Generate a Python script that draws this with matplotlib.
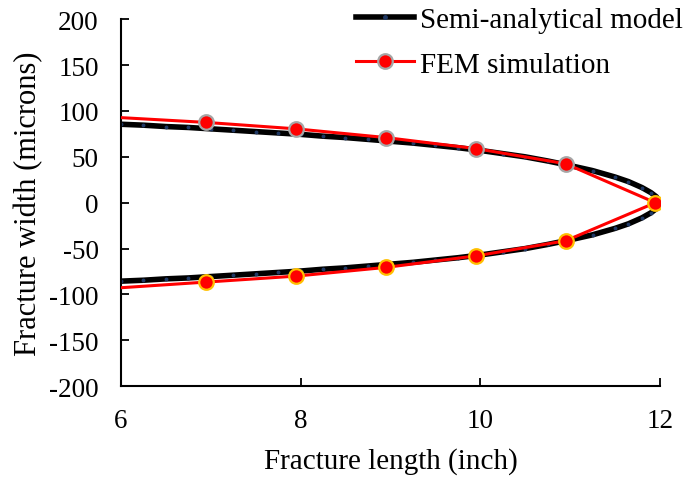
import matplotlib
matplotlib.use("Agg")
import matplotlib.pyplot as plt
from matplotlib.lines import Line2D

plt.rcParams['font.family'] = ['Liberation Serif', 'DejaVu Serif']
plt.rcParams['axes.unicode_minus'] = False

# Semi-analytical model (upper half)
model_x = [6.0, 6.25, 6.5, 6.75, 7.0, 7.25, 7.5, 7.75, 8.0, 8.25, 8.5, 8.75, 9.0,
           9.25, 9.5, 9.75, 10.0, 10.25, 10.5, 10.75, 11.0, 11.25, 11.5, 11.65,
           11.8, 11.9, 11.96, 12.0]
model_upper = [85.5, 84.5, 83.0, 82.0, 80.5, 79.0, 77.5, 76.0, 74.5, 72.5, 71.0, 69.0, 67.0,
               65.0, 62.5, 60.0, 57.0, 53.5, 50.0, 45.5, 40.5, 35.0, 28.0, 23.0,
               16.5, 11.0, 6.5, 0.0]
model_lower = [-v for v in model_upper]

# FEM simulation
fem_x = [5.95, 6.95, 7.95, 8.95, 9.95, 10.95, 11.95]
fem_upper = [93.0, 87.5, 80.5, 71.0, 59.0, 42.5, 0.0]
fem_lower = [-93.0, -86.5, -80.0, -70.5, -58.0, -41.5, 0.0]

fig = plt.figure(figsize=(6.91, 4.81), dpi=100)
ax = fig.add_axes([0.175, 0.195, 0.780, 0.763])

# model curve
mx = model_x + model_x[::-1][1:]
my = model_upper + model_lower[::-1][1:]
ax.plot(mx, my, color='black', lw=4.0, zorder=2, solid_capstyle='round')
ax.plot(mx, my, ls='none', marker='o', ms=1.8, mfc='#1f3864', mec='#1f3864', zorder=2.5)

# FEM curve
fx = fem_x + fem_x[::-1][1:]
fy = fem_upper + fem_lower[::-1][1:]
ax.plot(fx, fy, color='#ff0000', lw=2.2, zorder=3)
ax.plot(fem_x[1:-1], fem_upper[1:-1], ls='none', marker='o', ms=10.5, mfc='#ff0000',
        mec='#a6a6a6', mew=1.6, zorder=4)
ax.plot(fem_x[1:], fem_lower[1:], ls='none', marker='o', ms=10.5, mfc='#ff0000',
        mec='#ffc000', mew=1.6, zorder=4)

ax.set_xlim(6, 12)
ax.set_ylim(-200, 200)
ax.set_xticks([6, 8, 10, 12])
ax.set_yticks(range(-200, 201, 50))
ax.tick_params(direction='in', length=6, width=1.3, labelsize=19.5)
ax.tick_params(axis='y', pad=16)
ax.tick_params(axis='x', pad=16)
for s in ['top', 'right']:
    ax.spines[s].set_visible(False)
for s in ['left', 'bottom']:
    ax.spines[s].set_linewidth(1.5)

ax.set_xlabel('Fracture length (inch)', fontsize=21, labelpad=10)
ax.set_ylabel('Fracture width (microns)', fontsize=22, labelpad=4)

handles = [
    Line2D([], [], color='black', lw=4.0, marker='o', ms=2.5, mfc='#1f3864', mec='#1f3864'),
    Line2D([], [], color='#ff0000', lw=2.2, marker='o', ms=10.5, mfc='#ff0000', mec='#a6a6a6', mew=1.6),
]
leg = ax.legend(handles, ['Semi-analytical model', 'FEM simulation'], loc='upper right',
                bbox_to_anchor=(1.08, 1.09), frameon=False, fontsize=21,
                handlelength=2.0, handletextpad=0.2, labelspacing=0.62, borderpad=0.2)

fig.savefig('out.png', dpi=100)
